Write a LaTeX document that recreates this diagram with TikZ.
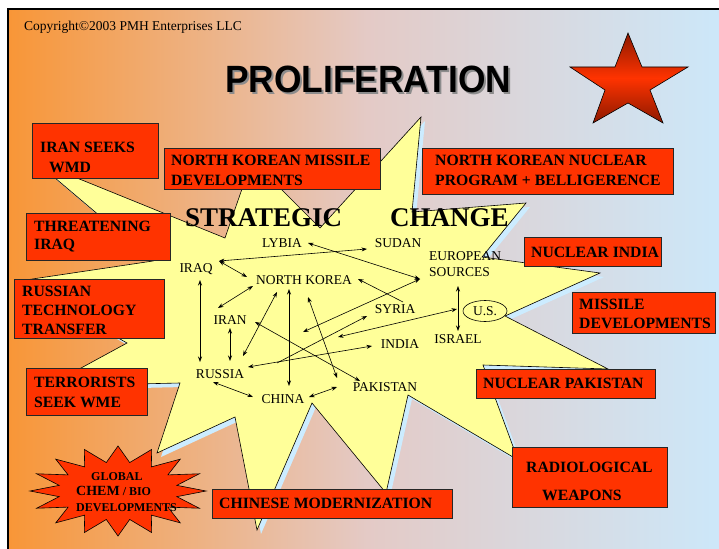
\documentclass[tikz,border=0pt]{standalone}
\usepackage{fontspec}
\setmainfont{Liberation Serif}
\newfontfamily\titlefont{Liberation Sans}
\usetikzlibrary{arrows.meta,shapes.geometric}
\definecolor{bgL}{RGB}{248,150,55}
\definecolor{bgM}{RGB}{228,202,198}
\definecolor{bgR}{RGB}{204,232,250}
\definecolor{boxred}{RGB}{255,51,0}
\definecolor{starY}{RGB}{255,255,153}
\definecolor{shadowB}{RGB}{204,236,255}
\definecolor{darkred}{RGB}{140,25,0}
\begin{document}
\begin{tikzpicture}[x=1pt,y=-1pt,
  rboxshape/.style={draw=black!85, line width=0.8pt, fill=boxred},
  btext/.style={anchor=west, inner sep=0pt, align=left},
  city/.style={inner sep=0pt, font=\fontsize{13.5}{16}\selectfont},
  link/.style={<->, line width=0.6pt},
  onelink/.style={->, line width=0.6pt},
  >={Stealth[length=5.5pt,width=4pt]}
]
\useasboundingbox (0,0) rectangle (719,548);
\fill[white] (0,0) rectangle (719,548);
\shade[left color=bgL, right color=bgR, middle color=bgM] (8,9) rectangle (726,556);
\draw[line width=2pt] (8,9) rectangle (726,556);

% copyright and title (title carries its own grey shadow)
\node[anchor=base west, inner sep=0pt, font=\fontsize{13.5}{15}\selectfont] (copy) at (24,31) {Copyright\textcopyright2003 PMH Enterprises LLC};
\node[inner sep=0pt, font=\titlefont\bfseries\fontsize{38}{40}\selectfont] (title) at (368,80)
 {\rlap{\hspace*{2pt}\raisebox{-2pt}{\textcolor{black!45}{\scalebox{0.93}[1]{PROLIFERATION}}}}\scalebox{0.93}[1]{PROLIFERATION}};

% red star
\shadedraw[top color=darkred, bottom color=darkred, middle color=boxred, draw=black, line width=0.6pt]
 (628,33) -- (642,67) -- (688,67) -- (650,90) -- (663,123) -- (628,103) -- (593,123) -- (605,90) -- (570,67) -- (615,67) -- cycle;

% big yellow star: shadow then body
\fill[shadowB, shift={(4,4)}]
 (421,117) -- (412,212) -- (526,203) -- (482,257) -- (600,273) -- (505,316) -- (608,369) -- (483,365)
 -- (518,460) -- (408,395) -- (386,493) -- (312,403) -- (257,530) -- (235,417) -- (157,453) -- (180,383)
 -- (48,386) -- (127,343) -- (19,281) -- (153,261) -- (35,161) -- (225,238) -- (252,160) -- (320,228) -- cycle;
\filldraw[fill=starY, draw=black, line width=0.6pt]
 (421,117) -- (412,212) -- (526,203) -- (482,257) -- (600,273) -- (505,316) -- (608,369) -- (483,365)
 -- (518,460) -- (408,395) -- (386,493) -- (312,403) -- (257,530) -- (235,417) -- (157,453) -- (180,383)
 -- (48,386) -- (127,343) -- (19,281) -- (153,261) -- (35,161) -- (225,238) -- (252,160) -- (320,228) -- cycle;

% headings inside star
\node[anchor=base west, inner sep=0pt, font=\bfseries\fontsize{27}{30}\selectfont] (strategic) at (185,226) {STRATEGIC};
\node[anchor=base west, inner sep=0pt, font=\bfseries\fontsize{27}{30}\selectfont] (change) at (390,226) {CHANGE};

% countries
\node[city] (lybia) at (282,243) {LYBIA};
\node[city] (sudan) at (398,243) {SUDAN};
\node[city] (iraq) at (196,269) {IRAQ};
\node[city] (nkorea) at (304,280) {NORTH KOREA};
\node[city, anchor=west, align=left] (europe) at (429,264) {EUROPEAN\\SOURCES};
\node[city] (syria) at (395,309) {SYRIA};
\node[city, ellipse, draw, line width=0.6pt, minimum width=44, minimum height=21] (us) at (485,311) {U.S.};
\node[city] (iran) at (230,320) {IRAN};
\node[city] (india) at (400,344) {INDIA};
\node[city] (israel) at (458,339) {ISRAEL};
\node[city] (russia) at (220,374) {RUSSIA};
\node[city] (pakistan) at (385,387) {PAKISTAN};
\node[city] (china) at (283,399) {CHINA};

% connector end points
\coordinate (lybia-e) at (308,243);
\coordinate (europe-w) at (420,279);
\coordinate (iraq-ne) at (219,261);
\coordinate (sudan-w) at (367,249);
\coordinate (nkorea-w) at (247,277);
\coordinate (nkorea-sw) at (253,286);
\coordinate (iran-n) at (218,308);
\coordinate (iraq-s) at (200,280);
\coordinate (russia-n) at (200,362);
\coordinate (iran-s) at (230,328);
\coordinate (russia-ne) at (230,361);
\coordinate (nkorea-s1) at (277,292);
\coordinate (russia-e1) at (243,356);
\coordinate (nkorea-s2) at (289,289);
\coordinate (china-n) at (289,386);
\coordinate (nkorea-s3) at (308,297);
\coordinate (pakistan-n) at (337,378);
\coordinate (nkorea-e) at (358,279);
\coordinate (syria-nw) at (403,302);
\coordinate (iran-e) at (255,322);
\coordinate (pakistan-nw) at (360,381);
\coordinate (mid1) at (303,332);
\coordinate (us-w) at (457,309);
\coordinate (mid2) at (338,337);
\coordinate (russia-e) at (248,367);
\coordinate (india-w) at (372,346);
\coordinate (branch) at (277,363);
\coordinate (syria-sw) at (367,316);
\coordinate (europe-s) at (458,286);
\coordinate (israel-n) at (458,331);
\coordinate (russia-se) at (213,382);
\coordinate (china-w) at (253,397);
\coordinate (china-e) at (309,397);
\coordinate (pakistan-w) at (337,387);

\draw[link] (lybia-e) -- (europe-w);
\draw[link] (iraq-ne) -- (sudan-w);
\draw[link] (iraq-ne) -- (nkorea-w);
\draw[link] (nkorea-sw) -- (iran-n);
\draw[link] (iraq-s) -- (russia-n);
\draw[link] (iran-s) -- (russia-ne);
\draw[link] (nkorea-s1) -- (russia-e1);
\draw[link] (nkorea-s2) -- (china-n);
\draw[link] (nkorea-s3) -- (pakistan-n);
\draw[onelink] (syria-nw) -- (nkorea-e);
\draw[link] (iran-e) -- (pakistan-nw);
\draw[link] (europe-w) -- (mid1);
\draw[link] (us-w) -- (mid2);
\draw[link] (russia-e) -- (india-w);
\draw[onelink] (branch) -- (syria-sw);
\draw[link] (europe-s) -- (israel-n);
\draw[link] (russia-se) -- (china-w);
\draw[link] (china-e) -- (pakistan-w);

% red boxes
\path[rboxshape] (32,123) rectangle (158,178);
\node[btext, font=\bfseries\fontsize{15.7}{20}\selectfont] (iranwmd) at (40,157) {IRAN SEEKS\\\hspace*{9pt}WMD};
\path[rboxshape] (164,148) rectangle (380,189);
\node[btext, font=\bfseries\fontsize{15.7}{20}\selectfont] (nkmissile) at (171,170) {NORTH KOREAN MISSILE\\DEVELOPMENTS};
\path[rboxshape] (422,148) rectangle (673,194);
\node[btext, font=\bfseries\fontsize{15.7}{20}\selectfont] (nknuclear) at (435,170) {NORTH KOREAN NUCLEAR\\PROGRAM + BELLIGERENCE};
\path[rboxshape] (26,213) rectangle (170,260);
\node[btext, font=\bfseries\fontsize{15.7}{18}\selectfont] (threat) at (34,237) {THREATENING\\IRAQ};
\path[rboxshape] (14,279) rectangle (164,338);
\node[btext, font=\bfseries\fontsize{15.7}{19}\selectfont] (rustech) at (22,310) {RUSSIAN\\TECHNOLOGY\\TRANSFER};
\path[rboxshape] (26,368) rectangle (147,415);
\node[btext, font=\bfseries\fontsize{15.7}{20}\selectfont] (terror) at (34,392) {TERRORISTS\\SEEK WME};
\path[rboxshape] (524,237) rectangle (661,266);
\node[btext, font=\bfseries\fontsize{15.7}{20}\selectfont] (nindia) at (531,252) {NUCLEAR INDIA};
\path[rboxshape] (572,292) rectangle (715,333);
\node[btext, font=\bfseries\fontsize{15.7}{19}\selectfont] (missile) at (579,313.5) {MISSILE\\DEVELOPMENTS};
\path[rboxshape] (476,369) rectangle (655,398);
\node[btext, font=\bfseries\fontsize{15.7}{20}\selectfont] (npak) at (483,383) {NUCLEAR PAKISTAN};
\path[rboxshape] (512,447) rectangle (667,507);
\node[btext, font=\bfseries\fontsize{15.7}{28}\selectfont] (radio) at (526,481) {RADIOLOGICAL\\\hspace*{16pt}WEAPONS};
\path[rboxshape] (212,489) rectangle (452,518);
\node[btext, font=\bfseries\fontsize{15.7}{20}\selectfont] (chinese) at (219,503) {CHINESE MODERNIZATION};

% global chem/bio burst
\filldraw[fill=boxred, draw=black, line width=0.6pt, shift={(118,491)}]
 (0:88 and 45) \foreach \a in {0,22.5,...,337.5} { -- (\a+11.25:60 and 29) -- (\a+22.5:88 and 45) } -- cycle;
\node[btext, font=\bfseries\fontsize{12}{15.5}\selectfont] (chembio) at (76,492)
 {\hspace*{15pt}GLOBAL\\{\fontsize{14}{15.5}\selectfont CHEM} / BIO\\DEVELOPMENTS};
\end{tikzpicture}
\end{document}
